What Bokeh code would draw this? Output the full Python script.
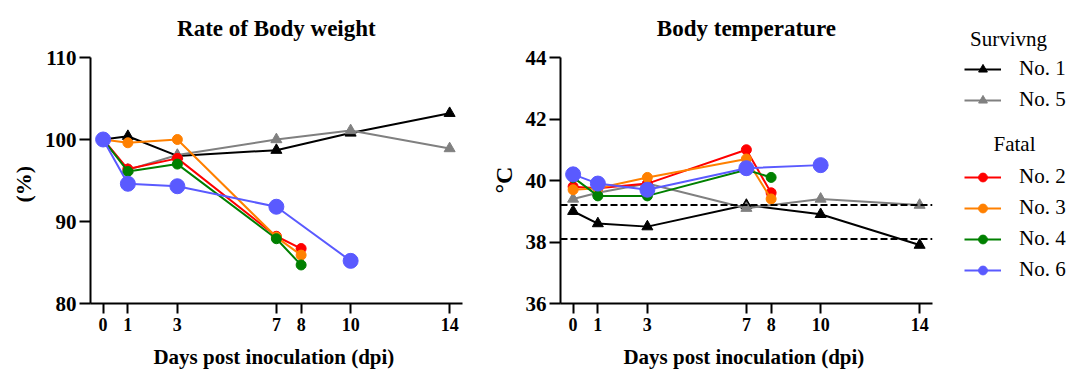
from bokeh.plotting import figure
from bokeh.layouts import row, column
from bokeh.models import Span, Legend, LegendItem, Label, FixedTicker, ColumnDataSource, Range1d, Title
from bokeh.embed import file_html
from bokeh.resources import INLINE

# ---------------- data ----------------
day_ticks = [0, 1, 3, 7, 8, 10, 14]
days_surv = [0, 1, 3, 7, 10, 14]
days_fatal = [0, 1, 3, 7, 8]
days_no6 = [0, 1, 3, 7, 10]

bw_no1 = [100.0, 100.4, 98.0, 98.7, 100.8, 103.2]
bw_no5 = [100.0, 96.3, 98.1, 100.0, 101.1, 98.9]
bw_no2 = [100.0, 96.4, 97.7, 88.2, 86.7]
bw_no3 = [100.0, 99.6, 100.0, 88.1, 85.9]
bw_no4 = [100.0, 96.1, 97.0, 87.9, 84.7]
bw_no6 = [100.0, 94.6, 94.3, 91.8, 85.2]

bt_no1 = [39.0, 38.6, 38.5, 39.2, 38.9, 37.9]
bt_no5 = [39.4, 39.6, 39.9, 39.1, 39.4, 39.2]
bt_no2 = [39.8, 39.75, 39.9, 41.0, 39.6]
bt_no3 = [39.7, 39.75, 40.1, 40.7, 39.4]
bt_no4 = [40.1, 39.5, 39.5, 40.35, 40.1]
bt_no6 = [40.2, 39.9, 39.7, 40.4, 40.5]

bw_ticks = [80, 90, 100, 110]
bt_ticks = [36, 38, 40, 42, 44]
bt_thresholds = [39.2, 38.1]

labels = ["No. 1", "No. 5", "No. 2", "No. 3", "No. 4", "No. 6"]
group_titles = ["Survivng", "Fatal"]

# ---------------- styles ----------------
styles = {
    "No. 1": dict(color="#000000", marker="triangle", size=11),
    "No. 5": dict(color="#808080", marker="triangle", size=11),
    "No. 2": dict(color="#ff0000", marker="circle", size=10),
    "No. 3": dict(color="#ff8000", marker="circle", size=10),
    "No. 4": dict(color="#008000", marker="circle", size=10),
    "No. 6": dict(color="#5a5aff", marker="circle", size=15),
}

series_days = {"No. 1": days_surv, "No. 5": days_surv, "No. 2": days_fatal,
               "No. 3": days_fatal, "No. 4": days_fatal, "No. 6": days_no6}
bw = {"No. 1": bw_no1, "No. 5": bw_no5, "No. 2": bw_no2, "No. 3": bw_no3, "No. 4": bw_no4, "No. 6": bw_no6}
bt = {"No. 1": bt_no1, "No. 5": bt_no5, "No. 2": bt_no2, "No. 3": bt_no3, "No. 4": bt_no4, "No. 6": bt_no6}

SERIF = "Liberation Serif"
H = 372
AXIS_TOP_PX = 57      # page row of the top tick
AXIS_BOTTOM_PX = 303  # page row of the x axis
TITLE_BASE_PX = 28    # page row of the title baseline


def make_fig(width, lo, hi, yticks, title, ylabel, ylabel_size, ylabel_offset, min_left, ylabel_standoff):
    ppu = (AXIS_BOTTOM_PX - AXIS_TOP_PX) / (hi - lo)
    top = hi + AXIS_TOP_PX / ppu   # frame reaches the page top; axis line bounded to [lo, hi]
    p = figure(width=width, height=H, x_range=Range1d(-0.51, 14.52), y_range=Range1d(lo, top),
               output_backend="svg", toolbar_location=None,
               min_border_left=min_left, min_border_right=18, min_border_top=0,
               min_border_bottom=H - AXIS_BOTTOM_PX)
    p.grid.visible = False
    p.outline_line_color = None
    p.background_fill_color = "white"
    p.border_fill_color = "white"
    for ax in (p.xaxis[0], p.yaxis[0]):
        ax.axis_line_width = 2
        ax.major_tick_line_width = 2
        ax.major_tick_in = 0
        ax.minor_tick_in = 0
        ax.minor_tick_out = 0
        ax.major_label_text_font = SERIF
        ax.major_label_text_font_style = "bold"
        ax.major_label_text_color = "black"
        ax.axis_label_text_font = SERIF
        ax.axis_label_text_font_style = "bold"
        ax.axis_label_text_color = "black"
    p.xaxis.ticker = FixedTicker(ticks=day_ticks)
    p.xaxis.major_tick_out = 10
    p.xaxis.major_label_text_font_size = "18px"
    p.xaxis.major_label_standoff = 4
    p.xaxis.axis_label = "Days post inoculation  (dpi)"
    p.xaxis.axis_label_text_font_size = "21px"
    p.xaxis.axis_label_standoff = 11
    p.yaxis.ticker = FixedTicker(ticks=yticks)
    p.yaxis.bounds = (lo, hi)
    p.yaxis.major_tick_out = 11
    p.yaxis.major_label_text_font_size = "21px"
    p.yaxis.major_label_standoff = 3
    # y label as a side title, placed along the axis from the frame bottom
    p.add_layout(Title(text=ylabel, align="left", offset=ylabel_offset, standoff=ylabel_standoff,
                       text_font=SERIF, text_font_size=ylabel_size, text_font_style="bold",
                       text_color="black"), "left")
    title_y = hi + (AXIS_TOP_PX - TITLE_BASE_PX) / ppu
    p.add_layout(Label(x=7.0, y=title_y, text=title, text_align="center", text_baseline="alphabetic",
                       text_font=SERIF, text_font_size="23px", text_font_style="bold", text_color="black"))
    return p


p1 = make_fig(480, 80, 110, bw_ticks, "Rate of Body weight", "(%)", "22px", 101, 90, 12)
p2 = make_fig(470, 36, 44, bt_ticks, "Body temperature", "°C", "24px", 110, 80, 12)

for t in bt_thresholds:
    p2.add_layout(Span(location=t, dimension="width", line_color="black", line_width=2, line_dash="7 3"))

for p, data in ((p1, bw), (p2, bt)):
    for name in labels:
        s = styles[name]
        src = ColumnDataSource(dict(x=series_days[name], y=data[name]))
        p.line("x", "y", source=src, line_color=s["color"], line_width=2)
        p.scatter("x", "y", source=src, marker=s["marker"], size=s["size"],
                  fill_color=s["color"], line_color=s["color"])

# ---------------- legend panel ----------------
# ranges are set to page pixels; the series drawn here fall outside the frame
p3 = figure(width=132, height=H, x_range=Range1d(950, 1082), y_range=Range1d(H, 0),
            output_backend="svg", toolbar_location=None, x_axis_type=None, y_axis_type=None,
            min_border=0)
p3.grid.visible = False
p3.outline_line_color = None

items = {}
for name in labels:
    s = styles[name]
    src = ColumnDataSource(dict(x=series_days[name], y=bt[name]))
    rl = p3.line("x", "y", source=src, line_color=s["color"], line_width=2)
    rs = p3.scatter("x", "y", source=src, marker=s["marker"], size=s["size"],
                    fill_color=s["color"], line_color=s["color"])
    items[name] = LegendItem(label=name, renderers=[rl, rs])


def make_legend(names, loc):
    lg = Legend(items=[items[n] for n in names], location=loc, glyph_width=37, glyph_height=22,
                label_height=20, spacing=6, padding=0, margin=0, label_standoff=18,
                border_line_color=None, background_fill_alpha=0,
                label_text_font=SERIF, label_text_font_size="21px", label_text_color="black")
    return lg


# legend locations: (left, bottom) in pixels of this panel
p3.add_layout(make_legend(["No. 1", "No. 5"], (14, 260)))
p3.add_layout(make_legend(["No. 2", "No. 3", "No. 4", "No. 6"], (14, 90)))
p3.add_layout(Label(x=1008, y=38, text=group_titles[0], text_align="center", text_baseline="middle",
                    text_font=SERIF, text_font_size="21px", text_color="black"))
p3.add_layout(Label(x=1014, y=143, text=group_titles[1], text_align="center", text_baseline="middle",
                    text_font=SERIF, text_font_size="21px", text_color="black"))

layout = row(p1, p2, column(p3, spacing=0), spacing=0)
open("out.html", "w").write(file_html(layout, INLINE))
